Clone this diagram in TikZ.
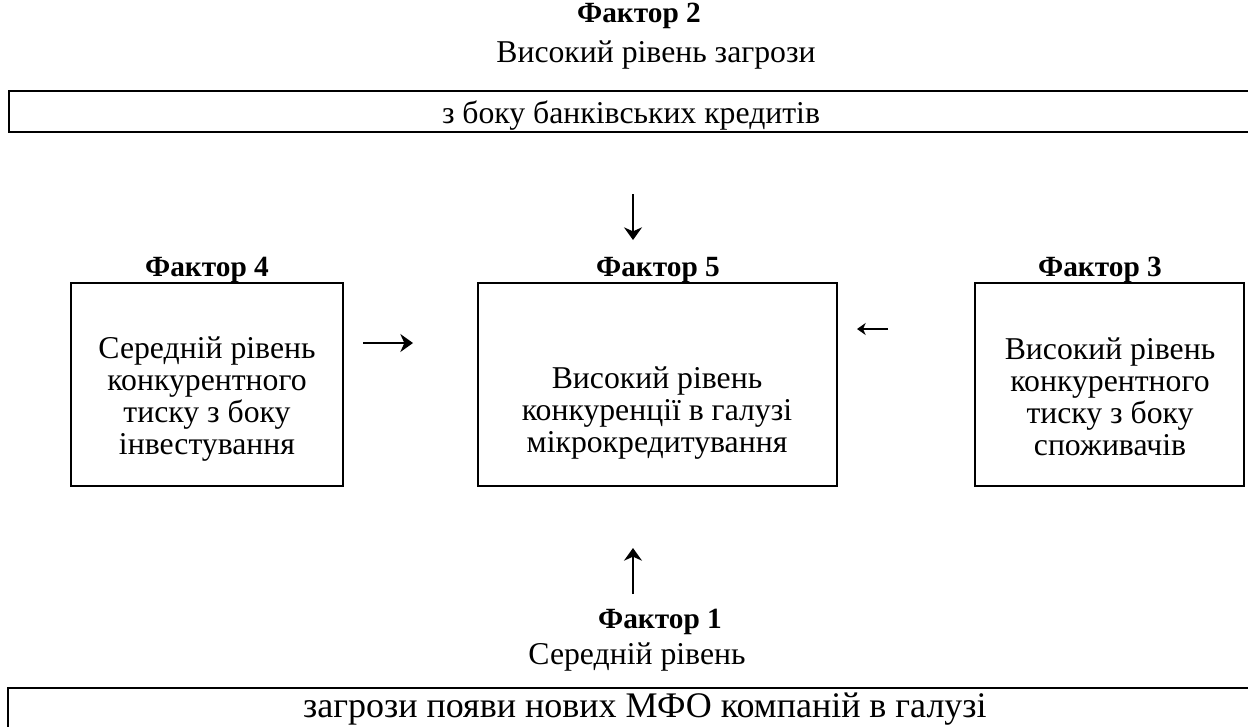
\documentclass[tikz,border=0pt]{standalone}
\usepackage{fontspec}
\setmainfont{Liberation Serif}
\usetikzlibrary{arrows.meta}

\tikzset{
  txt/.style={inner sep=0pt, align=center, font=\fontsize{23.8}{24}\selectfont},
  bigtxt/.style={inner sep=0pt, align=center, font=\fontsize{27}{30}\selectfont},
  lbl/.style={inner sep=0pt, align=center, font=\fontsize{22}{24}\selectfont\bfseries},
  factorbox/.style={draw, line width=0.9pt, inner sep=0pt, minimum height=152.25pt},
  edge/.style={line width=0.9pt},
  bigarrow/.style={line width=1.3pt, -{Stealth[length=9.5pt, width=13.5pt, inset=3pt]}},
  smallarrow/.style={line width=1.1pt, -{Stealth[length=6.5pt, width=9pt, inset=2pt]}},
}

\begin{document}
\begin{tikzpicture}[x=0.75pt, y=-0.75pt]
\useasboundingbox (0,0) rectangle (1248,726);

% Factor 2: heading and an open box running off the right edge
\node[lbl, anchor=base] (f2lbl) at (639,22) {Фактор 2};
\node[txt, anchor=base] (f2a) at (656,62) {Високий рівень загрози};
\draw[edge] (1260,91) -- (9,91) -- (9,132) -- (1260,132);
\node[txt, anchor=base] (f2b) at (631,123) {з боку банківських кредитів};

% Three boxes in the middle row
\node[lbl, anchor=base] (f4lbl) at (207,276) {Фактор 4};
\node[factorbox, minimum width=204pt] (f4) at (207,384.5) {};
\node[txt] (f4txt) at (207,399) {Середній рівень\\конкурентного\\тиску з боку\\інвестування};

\node[lbl, anchor=base] (f5lbl) at (658,276) {Фактор 5};
\node[factorbox, minimum width=269.25pt] (f5) at (657.5,384.5) {};
\node[txt] (f5txt) at (657,413) {Високий рівень\\конкуренції в галузі\\мікрокредитування};

\node[lbl, anchor=base] (f3lbl) at (1100,276) {Фактор 3};
\node[factorbox, minimum width=201.75pt] (f3) at (1109.5,384.5) {};
\node[txt] (f3txt) at (1110,397) {Високий рівень\\конкурентного\\тиску з боку\\споживачів};

% Factor 1: heading and an open box running off the bottom and right edges
\node[lbl, anchor=base] (f1lbl) at (660,628) {Фактор 1};
\node[txt, anchor=base] (f1a) at (637,664) {Середній рівень};
\draw[edge] (1260,688) -- (8,688) -- (8,740);
\node[bigtxt, anchor=base] (f1b) at (645,717) {загрози появи нових МФО компаній в галузі};

% Arrows pointing towards factor 5
\coordinate (dnA) at (633,194);
\coordinate (dnB) at (633,240);
\coordinate (rtA) at (363,343);
\coordinate (rtB) at (413,343);
\coordinate (ltA) at (888,329);
\coordinate (ltB) at (857,329);
\coordinate (upA) at (633,594);
\coordinate (upB) at (633,548);
\draw[bigarrow] (dnA) -- (dnB);
\draw[bigarrow] (rtA) -- (rtB);
\draw[smallarrow] (ltA) -- (ltB);
\draw[bigarrow] (upA) -- (upB);
\end{tikzpicture}
\end{document}
